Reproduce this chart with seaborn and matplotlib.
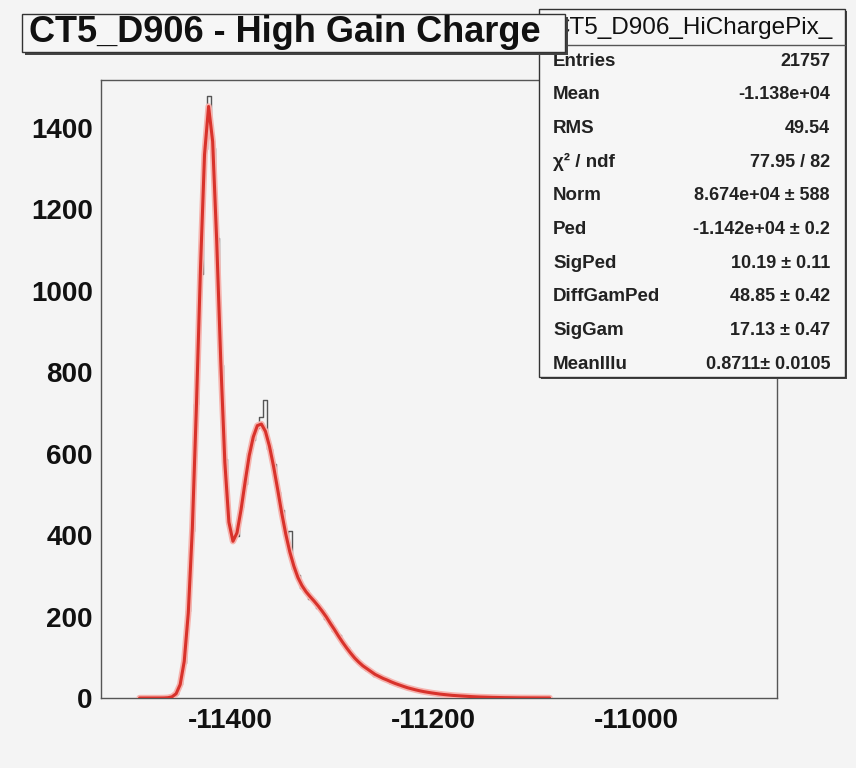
import numpy as np
import pandas as pd
import matplotlib
matplotlib.use("Agg")
import matplotlib.pyplot as plt
import seaborn as sns
from matplotlib.patches import Rectangle
from matplotlib.ticker import MultipleLocator, FixedLocator

# ---------------- data ----------------
bin_width = 4
first_bin_center = -11469
hist_counts = [
    0, 0, 1, 3, 9, 35, 86, 214, 409, 722,
    1041, 1348, 1478, 1352, 1131, 818, 588, 427, 391, 398,
    470, 525, 601, 633, 662, 690, 731, 612, 575, 507,
    461, 398, 411, 318, 301, 270, 266, 244, 241, 221,
    217, 194, 186, 164, 155, 133, 126, 107, 101, 85,
    81, 69, 67, 55, 54, 46, 45, 38, 37, 30,
    29, 24, 23, 19, 18, 15, 14, 12, 11, 9,
    9, 7, 7, 6, 5, 4, 4, 3, 3, 2,
    2, 2, 1, 1, 1, 1, 1, 0, 1, 0,
    0, 0, 0, 1, 0, 0, 0,
]

fit_first_x = -11489
fit_step = 4
fit_values = [
    0, 0, 0, 0, 0, 0, 0.1, 0.7, 2.9, 10.5,
    33, 90, 209, 417, 716, 1055, 1335, 1453, 1367, 1122,
    826, 579, 432, 385, 406, 463, 531, 595, 641, 669,
    673, 655, 618, 569, 513, 455, 403, 359, 324, 296,
    276, 261, 249, 238, 226, 213, 199, 183, 168, 152,
    137, 123, 110, 98, 88, 79, 72, 65, 58, 53,
    48, 44, 39.5, 35.5, 32, 28.5, 25.2, 22.6, 20, 17.7,
    15.7, 14, 12.4, 11, 9.6, 8.5, 7.5, 6.5, 5.8, 5.1,
    4.5, 3.9, 3.3, 2.8, 2.4, 2.1, 1.8, 1.5, 1.3, 1.1,
    0.9, 0.8, 0.65, 0.5, 0.4, 0.35, 0.3, 0.25, 0.2, 0.15,
    0.12, 0.1,
]

x_major_ticks = [-11400, -11200, -11000]
y_major_ticks = [0, 200, 400, 600, 800, 1000, 1200, 1400]
x_limits = (-11527, -10861)
y_limits = (0, 1518)

title_text = "CT5_D906 - High Gain Charge"
stats_name = "CT5_D906_HiChargePix_"
stats_labels = ["Entries", "Mean", "RMS", "\u03c7\u00b2 / ndf", "Norm", "Ped",
                "SigPed", "DiffGamPed", "SigGam", "MeanIllu"]
stats_values = ["21757", "-1.138e+04", "49.54", "77.95 / 82",
                "8.674e+04 \u00b1 588", "-1.142e+04 \u00b1 0.2",
                "10.19 \u00b1 0.11", "48.85 \u00b1 0.42", "17.13 \u00b1 0.47",
                "0.8711\u00b1 0.0105"]

# ---------------- figure ----------------
W, H = 856, 768
BG = "#f4f4f4"
sns.set_style("white")
plt.rcParams["font.family"] = ["Liberation Sans", "DejaVu Sans"]
plt.rcParams["axes.unicode_minus"] = False

fig = plt.figure(figsize=(W / 100, H / 100), dpi=100, facecolor=BG)


def fx(px):
    return px / W


def fy(py):
    return 1 - py / H


ax_l, ax_r, ax_t, ax_b = 101, 777, 80, 698
ax = fig.add_axes([fx(ax_l), fy(ax_b), (ax_r - ax_l) / W, (ax_b - ax_t) / H])
ax.set_facecolor(BG)

centers = first_bin_center + bin_width * np.arange(len(hist_counts))
lo_edge = float(centers[0] - bin_width / 2)
hi_edge = float(centers[-1] + bin_width / 2)
hist_df = pd.DataFrame({"charge": centers.astype(float),
                        "counts": np.asarray(hist_counts, dtype=float)})
sns.histplot(data=hist_df, x="charge", weights="counts",
             binwidth=bin_width, binrange=(lo_edge, hi_edge),
             element="step", fill=False, color="#555555", linewidth=1.0,
             ax=ax)

fit_x = fit_first_x + fit_step * np.arange(len(fit_values))
fit_df = pd.DataFrame({"charge": fit_x, "fit": fit_values})
sns.lineplot(data=fit_df, x="charge", y="fit", color="#f6b3ae",
             linewidth=4.6, ax=ax, zorder=3)
sns.lineplot(data=fit_df, x="charge", y="fit", color="#d8322b",
             linewidth=2.2, ax=ax, zorder=4)

ax.set_xlim(*x_limits)
ax.set_ylim(*y_limits)
ax.set_xlabel("")
ax.set_ylabel("")

ax.xaxis.set_major_locator(FixedLocator(x_major_ticks))
ax.xaxis.set_minor_locator(MultipleLocator(50))
ax.yaxis.set_major_locator(FixedLocator(y_major_ticks))
ax.yaxis.set_minor_locator(MultipleLocator(50))
ax.tick_params(axis="both", which="major", direction="in", length=13,
               width=1, color="#444444", top=False, right=False,
               labelsize=20)
ax.tick_params(axis="both", which="minor", direction="in", length=6.5,
               width=1, color="#444444", top=False, right=False)
ax.tick_params(axis="x", which="major", pad=7)
ax.tick_params(axis="y", which="major", pad=6)
for lab in ax.get_xticklabels() + ax.get_yticklabels():
    lab.set_fontweight("bold")
    lab.set_color("#111111")
for sp in ax.spines.values():
    sp.set_visible(True)
    sp.set_color("#555555")
    sp.set_linewidth(1.0)


def pave(x0, y0, x1, y1, shadow=3):
    sh = Rectangle((fx(x0 + shadow), fy(y1 + shadow)), (x1 - x0) / W,
                   (y1 - y0) / H, transform=fig.transFigure,
                   facecolor="#444444", edgecolor="none", zorder=10)
    box = Rectangle((fx(x0), fy(y1)), (x1 - x0) / W, (y1 - y0) / H,
                    transform=fig.transFigure, facecolor="#f6f6f6",
                    edgecolor="#333333", linewidth=1.0, zorder=11)
    fig.patches.extend([sh, box])


# stats box
sx0, sy0, sx1, sy1 = 539, 9, 845, 377
pave(sx0, sy0, sx1, sy1, shadow=2)
fig.add_artist(plt.Line2D([fx(sx0), fx(sx1)], [fy(45), fy(45)],
                          transform=fig.transFigure, color="#555555",
                          lw=1.0, zorder=12))
fig.text(fx(693), fy(28), stats_name, ha="center", va="center",
         fontsize=17.5, color="#111111", zorder=13)
row_y0, row_dy = 61, 33.7
for i, (lab, val) in enumerate(zip(stats_labels, stats_values)):
    yy = fy(row_y0 + i * row_dy)
    fig.text(fx(553), yy, lab, ha="left", va="center", fontsize=13.5,
             fontweight="bold", color="#222222", zorder=13)
    fig.text(fx(830), yy, val, ha="right", va="center", fontsize=13,
             fontweight="bold", color="#222222", zorder=13)

# title box (drawn on top of the stats box)
tx0, ty0, tx1, ty1 = 22, 14, 565, 52
sh = Rectangle((fx(tx0 + 3), fy(ty1 + 3)), (tx1 - tx0) / W, (ty1 - ty0) / H,
               transform=fig.transFigure, facecolor="#444444",
               edgecolor="none", zorder=20)
box = Rectangle((fx(tx0), fy(ty1)), (tx1 - tx0) / W, (ty1 - ty0) / H,
                transform=fig.transFigure, facecolor="#f6f6f6",
                edgecolor="#333333", linewidth=1.0, zorder=21)
fig.patches.extend([sh, box])
fig.text(fx(285), fy(33), title_text, ha="center", va="center",
         fontsize=26, fontweight="bold", color="#111111", zorder=22)

fig.savefig("out.png", dpi=100, facecolor=BG)
